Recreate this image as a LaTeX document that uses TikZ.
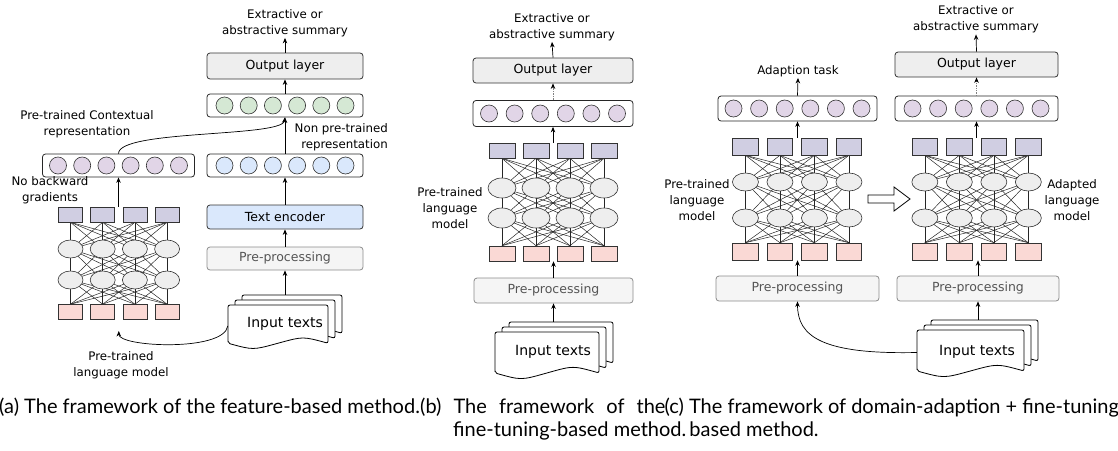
\documentclass[tikz,border=0pt]{standalone}
\usepackage{fontspec}
\setmainfont{DejaVu Sans}
\newfontfamily\capfont{Lato}
\usetikzlibrary{arrows.meta,shapes.geometric,backgrounds,calc}
\definecolor{outgray}{HTML}{EEEEEE}
\definecolor{pregray}{HTML}{F5F5F5}
\definecolor{pretext}{HTML}{555555}
\definecolor{encblue}{HTML}{DAE8FC}
\definecolor{cblue}{HTML}{DAE8FC}
\definecolor{cgreen}{HTML}{D5E8D4}
\definecolor{cpurple}{HTML}{E1D5E7}
\definecolor{sqtop}{HTML}{D0CEE2}
\definecolor{sqbot}{HTML}{FAD9D5}
\definecolor{ellgray}{HTML}{EEEEEE}
\newcommand\boxfont{\fontsize{12.5}{14}\selectfont}
\newcommand\lblfont{\fontsize{11.8}{16}\selectfont}
\newcommand\docfont{\fontsize{14}{16}\selectfont}
\newcommand\cptfont{\capfont\fontsize{20}{24}\selectfont}
\newlength\cwA \newlength\cwC \newlength\cwBn \newlength\cwBl \newlength\cwCl \newlength\cwB
\tikzset{
  box/.style={draw=black!80, rounded corners=3pt, line width=0.8pt, font=\boxfont, inner sep=0pt},
  outbox/.style={box, fill=outgray},
  prebox/.style={box, draw=black!45, fill=pregray, text=pretext},
  encbox/.style={box, fill=encblue},
  layer/.style={draw=black!85, rounded corners=3pt, fill=white, line width=0.8pt, inner sep=0pt},
  circ/.style={circle, draw=black!80, inner sep=0pt, minimum size=17pt, line width=0.6pt},
  sq/.style={rectangle, draw=black!80, inner sep=0pt, line width=0.6pt},
  ell/.style={ellipse, draw=black!80, fill=ellgray, inner sep=0pt, line width=0.6pt},
  net/.style={line width=0.5pt, draw=black!85},
  lbl/.style={font=\lblfont, align=center, inner sep=1pt},
  arr/.style={-{Stealth[length=5.5pt,width=4.5pt]}, line width=0.7pt},
  darr/.style={-{Stealth[length=5.5pt,width=4.5pt,black]}, densely dotted, draw=gray, line width=0.7pt},
  docst/.style={draw=black, fill=white, line width=0.8pt, rounded corners=2pt},
  inv/.style={draw=none, inner sep=0pt},
  cpt/.style={font=\cptfont, inner sep=0pt, anchor=base west},
}
\newcommand\mklayer[7]{%
  \node[layer, minimum width=#4pt, minimum height=#5pt] (#1) at (#2,#3) {};
  \foreach \k in {1,...,6}{\node[circ, fill=#6] (#1c\k) at ({#2+(\k-3.5)*#7},#3) {};}%
}
\newcommand\mknet[9]{%
  \foreach \k in {1,...,4}{%
    \pgfmathsetmacro\nnx{#2+(\k-2.5)*#3}
    \node[sq, fill=sqtop, minimum width=#4pt, minimum height=#5pt] (#1t\k) at (\nnx,#6) {};
    \node[ell, minimum width=\ew pt, minimum height=\eh pt] (#1e\k) at (\nnx,#7) {};
    \node[ell, minimum width=\ew pt, minimum height=\eh pt] (#1f\k) at (\nnx,#8) {};
    \node[sq, fill=sqbot, minimum width=#4pt, minimum height=#5pt] (#1b\k) at (\nnx,#9) {};
  }
  \begin{pgfonlayer}{background}
  \foreach \i in {1,...,4}{\foreach \j in {1,...,4}{
     \draw[net] (#1t\i.south) -- (#1e\j.center);
     \draw[net] (#1e\i.center) -- (#1f\j.center);
     \draw[net] (#1f\i.center) -- (#1b\j.north);
  }}
  \end{pgfonlayer}
}
\newcommand\docpage[4]{%
  \pgfmathsetmacro\dX{#1}\pgfmathsetmacro\dY{#2}\pgfmathsetmacro\dd{0.18*#4}
  \draw[docst] (\dX,{\dY+#4-\dd/2}) -- (\dX,\dY) -- ({\dX+#3},\dY) -- ({\dX+#3},{\dY+#4-\dd/2})
    .. controls ({\dX+0.75*#3},{\dY+#4-1.4*\dd}) .. ({\dX+0.5*#3},{\dY+#4-\dd/2})
    .. controls ({\dX+0.25*#3},{\dY+#4+0.4*\dd}) .. (\dX,{\dY+#4-\dd/2}) -- cycle;
}
\newcommand\docstack[4]{\docpage{#1+14}{#2-10}{#3}{#4}\docpage{#1+7}{#2-5}{#3}{#4}\docpage{#1}{#2}{#3}{#4}}
\begin{document}
\settowidth\cwA{\cptfont (a) The framework of the feature-based method.}%
\settowidth\cwC{\cptfont (c) The framework of domain-adaption + fine-tuning}%
\settowidth\cwBn{\cptfont (b) The framework of the}%
\settowidth\cwBl{\cptfont (b)\ }%
\settowidth\cwCl{\cptfont (c)\ }%
\setlength\cwB{\dimexpr 1120pt-\cwA-\cwC\relax}%
\begin{tikzpicture}[x=1pt,y=-1pt]
\useasboundingbox (0,0) rectangle (1118,450);

% ---------------- panel (a) ----------------
\node[lbl] (aSum) at (285,23) {Extractive or\\abstractive summary};
\node[outbox, minimum width=156pt, minimum height=26pt] (aOut) at (285,66) {Output layer};
\mklayer{aG}{285}{105.5}{156}{23}{cgreen}{24.2}
\mklayer{aP}{118.5}{165.5}{152}{23}{cpurple}{24.2}
\mklayer{aB}{285}{165.5}{156}{23}{cblue}{24.2}
\node[encbox, minimum width=156pt, minimum height=24pt] (aEnc) at (285,217) {Text encoder};
\node[prebox, minimum width=156pt, minimum height=23pt] (aPre) at (285,258.5) {Pre-processing};
\def\ew{25}\def\eh{18}
\mknet{an}{118.8}{32.2}{24}{15}{214.5}{249}{280}{312}
\docstack{228}{305}{100}{42}
\node[inv, minimum width=100pt, minimum height=42pt] (aDoc) at (278,326) {};
\node[inv, minimum width=100pt, minimum height=42pt] (aDocB) at (292,316) {};
\node[font=\docfont, inner sep=0pt] (aDocT) at (285,324) {Input texts};
\node[lbl] (aPTC) at (87,124.5) {Pre-trained Contextual\\representation};
\node[lbl, align=right, anchor=east] (aNPT) at (389,137) {Non pre-trained\\representation};
\node[lbl] (aNBG) at (50,190.5) {No backward\\gradients};
\node[lbl] (aPLM) at (121,365) {Pre-trained\\language model};
\coordinate (aTip) at (118.8,331);

\draw[arr] (aOut.north) -- (aSum.south);
\draw[arr] (aG.north) -- (aOut.south);
\draw[arr] (aB.north) -- (aG.south);
\draw[arr] (aP.north) .. controls +(0,-24) and +(-3,20) .. (aG.south);
\draw[arr] (aEnc.north) -- (aB.south);
\draw[arr] (aPre.north) -- (aEnc.south);
\draw[arr] (aDocB.north -| aPre) -- (aPre.south);
\draw[arr] (aP.south |- ant1.north) -- (aP.south);
\draw[arr] (aDoc.west) .. controls +(-4,26) and +(0,16) .. (aTip);

% ---------------- panel (b) ----------------
\node[lbl] (bSum) at (552,27) {Extractive or\\abstractive summary};
\node[outbox, minimum width=160pt, minimum height=25pt] (bOut) at (553,70.5) {Output layer};
\mklayer{bL}{553}{113.5}{160}{26}{cpurple}{25.6}
\def\ew{28}\def\eh{20}
\mknet{bn}{553}{34}{26}{15}{150.5}{188}{218}{253.5}
\node[prebox, minimum width=159pt, minimum height=25pt] (bPre) at (553.5,290.5) {Pre-processing};
\docstack{495}{332}{104}{45}
\node[inv, minimum width=104pt, minimum height=45pt] (bDoc) at (547,354.5) {};
\node[inv, minimum width=104pt, minimum height=45pt] (bDocB) at (561,344.5) {};
\node[font=\docfont, inner sep=0pt] (bDocT) at (553,352) {Input texts};
\node[lbl] (bPLM) at (450,208) {Pre-trained\\language\\model};

\draw[arr] (bOut.north) -- (bSum.south);
\draw[darr] (bL.north) -- (bOut.south);
\draw[arr] (bL.south |- bnt1.north) -- (bL.south);
\draw[arr] (bPre.north) -- (bPre.north |- bnb1.south);
\draw[arr] (bDocB.north -| bPre) -- (bPre.south);

% ---------------- panel (c) ----------------
\node[lbl] (cAT) at (798,71) {Adaption task};
\mklayer{cLL}{797.5}{108.5}{159}{25}{cpurple}{25.6}
\node[lbl] (cSum) at (976,19.5) {Extractive or\\abstractive summary};
\node[outbox, minimum width=163pt, minimum height=25pt] (cOut) at (976.5,64.5) {Output layer};
\mklayer{cRL}{976.5}{108.5}{163}{25}{cpurple}{25.6}
\def\ew{26}\def\eh{18}
\mknet{cln}{797.2}{34.5}{25.5}{17}{146.5}{182}{218}{251.5}
\mknet{crn}{976.6}{34.5}{25.5}{17}{146.5}{182}{218}{251.5}
\node[prebox, minimum width=163pt, minimum height=25pt] (cPreL) at (797.5,288.5) {Pre-processing};
\node[prebox, minimum width=162pt, minimum height=25pt] (cPreR) at (978,288.5) {Pre-processing};
\docstack{917}{330}{107}{45}
\node[inv, minimum width=107pt, minimum height=45pt] (cDoc) at (970.5,352.5) {};
\node[inv, minimum width=107pt, minimum height=45pt] (cDocB) at (984.5,342.5) {};
\node[font=\docfont, inner sep=0pt] (cDocT) at (977,352) {Input texts};
\node[lbl] (cPLM) at (697,200) {Pre-trained\\language\\model};
\node[lbl] (cALM) at (1072,200) {Adapted\\language\\model};
\draw[line width=0.8pt, fill=white] (868,195) -- (894,195) -- (894,187) -- (910,199) -- (894,211) -- (894,203) -- (868,203) -- cycle;

\draw[arr] (cLL.north) -- (cAT.south);
\draw[arr] (cLL.south |- clnt1.north) -- (cLL.south);
\draw[arr] (cPreL.north) -- (cPreL.north |- clnb1.south);
\draw[arr] (cOut.north) -- (cSum.south);
\draw[darr] (cRL.north) -- (cOut.south);
\draw[arr] (cRL.south |- crnt1.north) -- (cRL.south);
\draw[arr] (cPreR.north) -- (cPreR.north |- crnb1.south);
\draw[arr] (cDocB.north -| cPreR) -- (cPreR.south);
\draw[arr] (cDoc.west) .. controls +(-95,2) and +(0,35) .. (cPreL.south);

% ---------------- captions ----------------
\pgfmathsetmacro\xBThe{-1+\cwA+\cwBl+(\cwB-\cwBn)/4}
\pgfmathsetmacro\xCThe{1119-\cwC+\cwCl}
\node[cpt] (capA) at (-1,413) {(a) The framework of the feature-based method.};
\node[cpt] (capB1) at (capA.base east) {\makebox[\cwB][s]{(b)\hfil\ The\hfil\ framework\hfil\ of\hfil\ the}};
\node[cpt, anchor=base east] (capC1) at (1119,413) {(c) The framework of domain-adaption + fine-tuning};
\node[cpt] (capB2) at (\xBThe,436) {fine-tuning-based method.};
\node[cpt] (capC2) at (\xCThe,436) {based method.};
\end{tikzpicture}
\end{document}
